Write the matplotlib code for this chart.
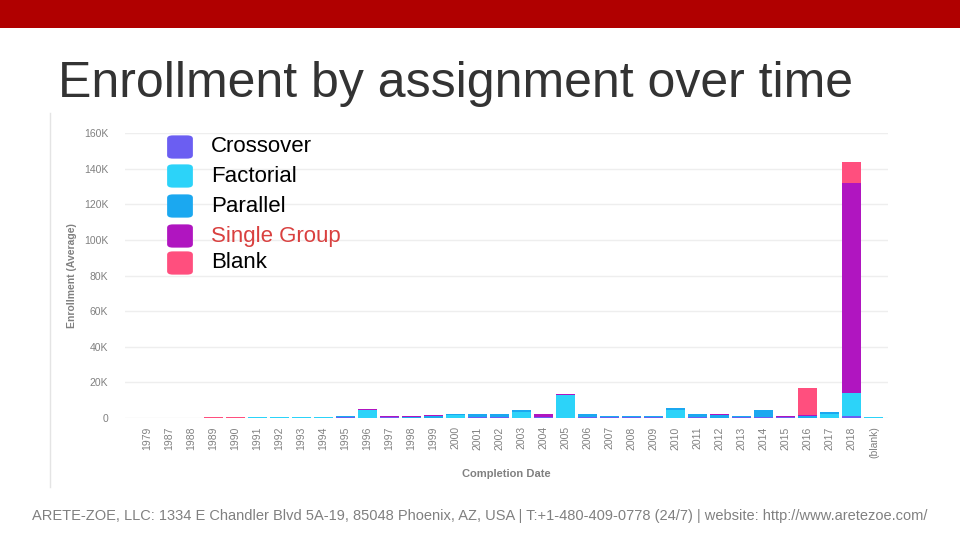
import matplotlib.pyplot as plt
from matplotlib.patches import FancyBboxPatch, Rectangle
from matplotlib.lines import Line2D
import numpy as np

plt.rcParams['font.family'] = ['Liberation Sans', 'DejaVu Sans']

# categories on the x axis
years = ['1979', '1987', '1988'] + [str(y) for y in range(1989, 2019)] + ['(blank)']

# average enrollment per assignment type, in thousands
#            1979 1987 1988 1989 1990 1991 1992 1993 1994 1995 1996 1997 1998 1999 2000 2001 2002
crossover = [0,   0,   0,   0,   0,   0,   0,   0,   0,   0.5, 0,   0.5, 0,   0,   0,   0.5, 0.5,
             # 2003 2004 2005 2006 2007 2008 2009 2010 2011 2012 2013 2014 2015 2016 2017 2018 blank
             0,   0.8, 0,   0.5, 0.6, 0.6, 0.6, 0,   0.5, 0,   0.6, 0.3, 0.8, 0,   0,   1.0, 0]
factorial = [0,   0,   0,   0,   0,   0.3, 0.3, 0.3, 0.3, 0,   4.3, 0,   0,   0,   1.5, 0,   0,
             3.5, 0,   12.7, 0,  0,   0,   0,   4.5, 0,   0,   0,   0,   0,   0,   2.5, 12.8, 0.3]
parallel = [0,    0,   0,   0,   0,   0,   0,   0,   0,   0.8, 0,   0,   0.6, 1.0, 0.5, 1.5, 1.5,
            1.0,  0,   0,   2.0, 0.6, 0.7, 0.7, 1.0, 1.5, 1.8, 0.6, 4.3, 0,   1.2, 0.9, 0.4, 0.5]
single_group = [0, 0,  0,   0,   0,   0,   0,   0,   0,   0,   0.8, 0.4, 0.7, 0.7, 0,   0,   0,
                0, 1.2, 0.8, 0,   0,   0,   0,   0,   0,   0.7, 0,   0,   0.5, 0.3, 0,  117.5, 0]
blank = [0,       0,   0,   0.4, 0.4, 0,   0,   0,   0,   0,   0,   0,   0,   0,   0,   0,   0,
         0,       0,   0,   0,   0,   0,   0,   0,   0,   0,   0,   0,   0,  15.5, 0,  11.8, 0]

series = [
    ('Crossover', crossover, '#6b5ef2'),
    ('Factorial', factorial, '#2cd3f9'),
    ('Parallel', parallel, '#1ba8f0'),
    ('Single Group', single_group, '#b015c0'),
    ('Blank', blank, '#ff4f7e'),
]

n = len(years)

fig = plt.figure(figsize=(9.6, 5.4), dpi=100)

# red band at the top of the slide
fig.add_artist(Rectangle((0, 1 - 28 / 540), 1, 28 / 540, transform=fig.transFigure,
                         color='#b00000', lw=0))

fig.text(58 / 960, 1 - 84 / 540, 'Enrollment by assignment over time',
         fontsize=36, color='#333333', va='center', ha='left')

# thin border of the chart image
fig.add_artist(Line2D([50 / 960, 50 / 960], [1 - 487 / 540, 1 - 113 / 540],
                      transform=fig.transFigure, color='#e4e4e4', lw=1))

ax = fig.add_axes([125 / 960, 122 / 540, 763 / 960, 285 / 540])
x = np.arange(n)
bottom = np.zeros(n)
for name, vals, col in series:
    vals = np.array(vals, dtype=float)
    ax.bar(x, vals, bottom=bottom, width=0.86, color=col, lw=0)
    bottom += vals

ax.set_xlim(-1.0, n - 1 + 0.64)
ax.set_ylim(0, 160)
yt = np.arange(0, 161, 20)
ax.set_yticks(yt)
ax.set_yticklabels(['0'] + [f'{v}K' for v in yt[1:]])
ax.set_xticks(x)
ax.set_xticklabels(years, rotation=90)
ax.grid(axis='y', color='#eeeeee', lw=1)
ax.set_axisbelow(True)
for s in ax.spines.values():
    s.set_visible(False)
ax.tick_params(axis='both', length=0, colors='#808080', labelsize=7.5)
ax.tick_params(axis='y', pad=12)
ax.tick_params(axis='x', pad=6)
ax.set_ylabel('Enrollment (Average)', color='#808080', fontsize=7.5, fontweight='bold', labelpad=5)
ax.set_xlabel('Completion Date', color='#808080', fontsize=8, fontweight='bold', labelpad=8)

# legend drawn as rounded swatches
leg_y = [147, 176, 206, 236, 263]
for (name, vals, col), yy in zip(series, leg_y):
    fy = 1 - yy / 540
    fig.add_artist(FancyBboxPatch((170 / 960, fy - 10 / 540), 20 / 960, 20 / 540,
                                  boxstyle='round,pad=0.003,rounding_size=0.006',
                                  transform=fig.transFigure, color=col, lw=0))
    fig.text(211 / 960, fy, name, fontsize=16, va='center', ha='left',
             color='#d9403f' if name == 'Single Group' else 'black')

fig.text(480 / 960, 1 - 516 / 540,
         'ARETE-ZOE, LLC: 1334 E Chandler Blvd 5A-19, 85048 Phoenix, AZ, USA | '
         'T:+1-480-409-0778 (24/7) | website: http://www.aretezoe.com/',
         fontsize=10.5, color='#808080', ha='center', va='center')

fig.savefig('out.png', dpi=100)
